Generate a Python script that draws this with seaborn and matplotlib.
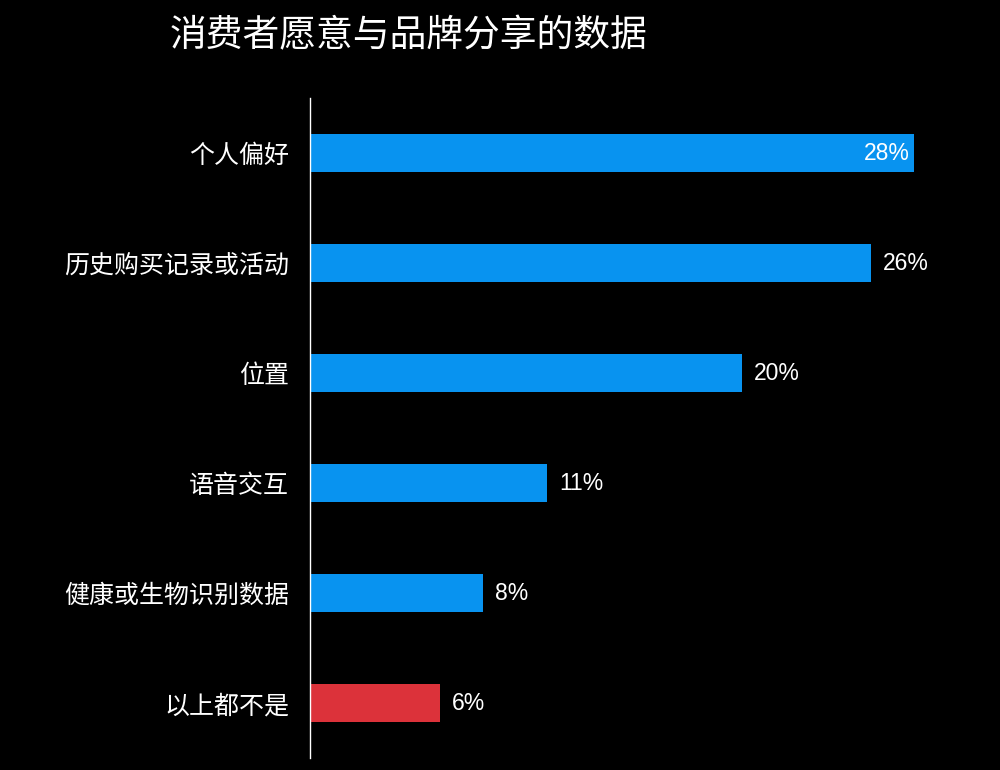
import matplotlib
matplotlib.use("Agg")
import matplotlib.pyplot as plt
import seaborn as sns
import pandas as pd

categories = ["个人偏好", "历史购买记录或活动", "位置", "语音交互", "健康或生物识别数据", "以上都不是"]
values = [28, 26, 20, 11, 8, 6]
labels = ["28%", "26%", "20%", "11%", "8%", "6%"]
colors = ["#0893F0"] * 5 + ["#DC323A"]

sns.set_style("dark")
plt.rcParams['font.family'] = ['Noto Sans CJK SC', 'DejaVu Sans']

df = pd.DataFrame({"cat": categories, "val": values})
fig = plt.figure(figsize=(10, 7.7), dpi=100, facecolor="black")
ax = fig.add_axes([0.31, 1 - 758/770, 0.977 - 0.31, 660/770])
ax.set_facecolor("black")
sns.barplot(data=df, x="val", y="cat", hue="cat", palette=colors, legend=False,
            width=0.345, ax=ax, saturation=1, linewidth=0, edgecolor="none")
ax.set_xlim(0, 30.9)
ax.set_ylim(5.5, -0.5)
num_font = ['Liberation Sans', 'DejaVu Sans']
for i, (v, l) in enumerate(zip(values, labels)):
    if i == 0:
        ax.text(v - 0.2, i, l, color="white", fontsize=16.5, va="center", ha="right", family=num_font)
    else:
        ax.text(v + 0.55, i, l, color="white", fontsize=16.5, va="center", ha="left", family=num_font)
ax.set_xlabel("")
ax.set_ylabel("")
ax.set_xticks([])
ax.tick_params(axis="y", colors="white", labelsize=18, length=0, pad=15)
for s in ["top", "right", "bottom"]:
    ax.spines[s].set_visible(False)
ax.spines["left"].set_color("white")
ax.spines["left"].set_linewidth(1)
ax.grid(False)
fig.text(0.17, 1 - 36/770, "消费者愿意与品牌分享的数据", color="white", fontsize=26.5,
         va="center", ha="left")
fig.savefig("out.png", facecolor="black")
